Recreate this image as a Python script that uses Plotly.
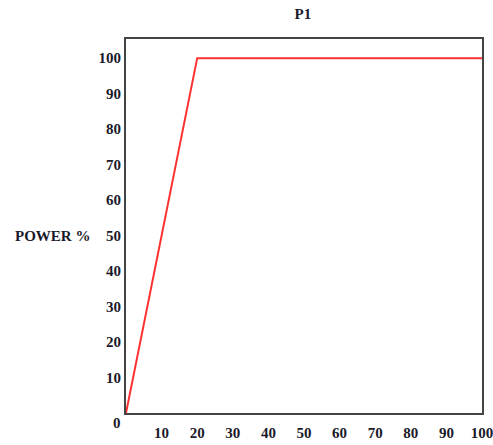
import plotly.graph_objects as go

# Data
x_vals = [0, 20, 100]
power_pct = [0, 100, 100]
x_ticks = [10, 20, 30, 40, 50, 60, 70, 80, 90, 100]
y_ticks = [10, 20, 30, 40, 50, 60, 70, 80, 90, 100]
y_zero_label = "0"
title_text = "P1"
y_title = "POWER %"

font_family = "Liberation Serif, Times New Roman, serif"
tick_font = dict(family=font_family, size=15, color="#1a1a2a")

fig = go.Figure()
fig.add_trace(go.Scatter(
    x=x_vals, y=power_pct, mode="lines",
    line=dict(color="#ff3030", width=2),
    hoverinfo="skip", showlegend=False,
))

fig.update_layout(
    width=493, height=445,
    margin=dict(l=126, r=11, t=39, b=32, autoexpand=False),
    paper_bgcolor="white", plot_bgcolor="white",
    title=dict(text="<b>" + title_text + "</b>", x=0.497, xref="paper", xanchor="center",
               y=1 - 14 / 445, yref="container", yanchor="middle",
               font=dict(family=font_family, size=15, color="#1a1a2a")),
    xaxis=dict(range=[0, 100], tickvals=x_ticks, ticktext=[f"<b>{v}</b>" for v in x_ticks],
               showgrid=False, zeroline=False, showline=True, mirror=True, automargin=False,
               linecolor="#444", linewidth=2, ticks="outside", ticklen=5,
               tickcolor="rgba(0,0,0,0)", tickfont=tick_font, ticklabeloverflow="allow"),
    yaxis=dict(range=[0, 105.4], tickvals=y_ticks, ticktext=[f"<b>{v}</b>" for v in y_ticks],
               showgrid=False, zeroline=False, showline=True, mirror=True, automargin=False,
               linecolor="#444", linewidth=2, ticks="", tickfont=tick_font),
    annotations=[
        dict(text="<b>" + y_title + "</b>", xref="paper", yref="y",
             x=-0.095, y=50, xanchor="right", yanchor="middle", showarrow=False,
             font=tick_font),
        dict(text="<b>" + y_zero_label + "</b>", xref="paper", yref="paper",
             x=-0.008, y=-10 / 374, xanchor="right", yanchor="middle", showarrow=False,
             font=tick_font),
    ],
)

fig.write_html(
    "out.html",
    config={"displayModeBar": False},
    post_script="document.body.style.margin='0';document.body.style.overflow='hidden';",
)
